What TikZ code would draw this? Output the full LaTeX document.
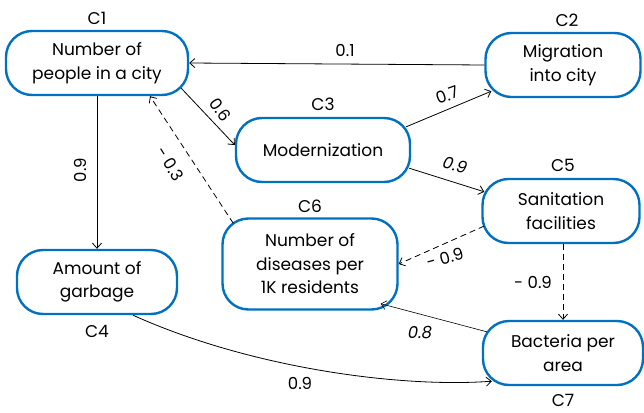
\documentclass[tikz,border=0pt]{standalone}
\usepackage{fontspec}
\setmainfont{Poppins}
\usetikzlibrary{arrows.meta}
\definecolor{cblue}{RGB}{0,112,192}

\tikzset{
  concept/.style={draw=cblue,line width=2.4pt,rounded corners=26pt,align=center,
    inner sep=2pt,minimum height=64pt,font=\fontsize{17}{23.5}\selectfont},
  tag/.style={font=\fontsize{17}{20}\selectfont,inner sep=1pt},
  weight/.style={font=\fontsize{16.5}{20}\selectfont,inner sep=1pt},
  link/.style={-{Straight Barb[length=5pt,width=9pt]},line width=0.8pt},
  broken/.style={dash pattern=on 6pt off 4pt},
}

\begin{document}
\begin{tikzpicture}[x=1pt,y=-1pt]
  \useasboundingbox (0,0) rectangle (644,412);

  % concepts
  \node[concept,minimum width=182pt] (c1) at (97,63)  {Number of\\people in a city};
  \node[concept,minimum width=155pt] (c2) at (563,65) {Migration\\into city};
  \node[concept,minimum width=174pt] (c3) at (323,150) {Modernization};
  \node[concept,minimum width=160pt] (c4) at (97,282) {Amount of\\garbage};
  \node[concept,minimum width=157pt] (c5) at (561,211) {Sanitation\\facilities};
  \node[concept,minimum width=175pt,minimum height=91pt] (c6) at (310,264) {Number of\\diseases per\\1K residents};
  \node[concept,minimum width=160pt] (c7) at (563,353) {Bacteria per\\area};

  % tags
  \node[tag] (t1) at (97,18)  {C1};
  \node[tag] (t2) at (567,20) {C2};
  \node[tag] (t3) at (323,104) {C3};
  \node[tag] (t4) at (97,331) {C4};
  \node[tag] (t5) at (563,165) {C5};
  \node[tag] (t6) at (310,206) {C6};
  \node[tag] (t7) at (563,400) {C7};

  % links
  \draw[link] (c2.west) -- (c1.east);
  \draw[link] ([shift={(-8,-8)}]c1.south east) -- ([shift={(0,-5)}]c3.west);
  \draw[link] (c1.south) -- (c4.north);
  \draw[link,broken] ([shift={(12,6)}]c6.north west) -- ([xshift=53pt]c1.south);
  \draw[link] ([shift={(-5,10)}]c3.north east) -- ([shift={(7,-7)}]c2.south west);
  \draw[link] ([shift={(-2,-15)}]c3.south east) -- ([shift={(3,14)}]c5.north west);
  \draw[link,broken] ([shift={(3,15)}]c5.west) -- (c6.east);
  \draw[link,broken] ([xshift=2pt]c5.south) -- (c7.north);
  \draw[link,line width=0.6pt] ([shift={(5,12)}]c7.north west) -- ([shift={(-18,-7)}]c6.south east);
  \draw[link] ([xshift=36pt]c4.south) .. controls (250,368) and (400,388) .. ([shift={(10,-5)}]c7.south west);

  % weights
  \node[weight] (w21) at (345,50) {0.1};
  \node[weight,rotate=-55] (w13) at (220,110) {0.6};
  \node[weight,rotate=90] (w14) at (80,170) {0.9};
  \node[weight,rotate=-58] (w61) at (170,164) {- 0.3};
  \node[weight,rotate=20] (w32) at (447,95) {0.7};
  \node[weight,rotate=-15,font=\fontsize{16.5}{20}\selectfont\itshape] (w35) at (455,165) {0.9};
  \node[weight,rotate=15] (w56) at (445,258) {- 0.9};
  \node[weight] (w57) at (533,282) {- 0.9};
  \node[weight,font=\fontsize{16.5}{20}\selectfont\itshape] (w76) at (420,333) {0.8};
  \node[weight] (w47) at (300,383) {0.9};
\end{tikzpicture}
\end{document}
